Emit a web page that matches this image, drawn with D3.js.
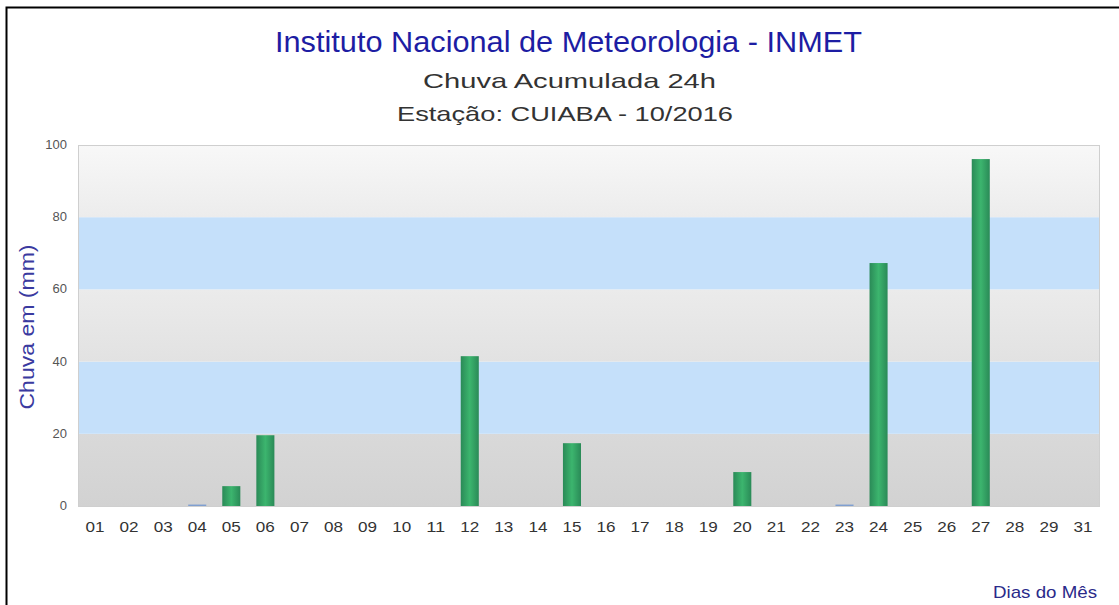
<!DOCTYPE html>
<meta charset="utf-8" />
<style>
  html, body { margin: 0; background: #fff; overflow: hidden; }
  svg { display: block; }
  text { font-family: "Liberation Sans", Arial, sans-serif; }
</style>
<body>
<div id="chart"></div>
<script src="https://d3js.org/d3.v7.min.js"></script>
<script>
  // chart data
  var days = ["01","02","03","04","05","06","07","08","09","10","11","12","13","14","15",
              "16","17","18","19","20","21","22","23","24","25","26","27","28","29","31"];
  var rain = [0,0,0,0.4,5.5,19.6,0,0,0,0,0,41.5,0,0,17.4,
              0,0,0,0,9.4,0,0,0.4,67.3,0,0,96.1,0,0,0];
  var yTicks = [0, 20, 40, 60, 80, 100];
  var bands = [[0, 20, "gray"], [20, 40, "blue"], [40, 60, "gray"], [60, 80, "blue"], [80, 100, "gray"]];

  var W = 1119, H = 605;
  var margin = { top: 145, right: 19, bottom: 99, left: 78 },
    width = W - margin.left - margin.right,
    height = H - margin.top - margin.bottom;

  var svg = d3.select("#chart").append("svg")
    .attr("width", W).attr("height", H);

  var defs = svg.append("defs");
  var bg = defs.append("linearGradient").attr("id", "barGrad")
    .attr("x1", 0).attr("x2", 1).attr("y1", 0).attr("y2", 0);
  bg.append("stop").attr("offset", "0%").attr("stop-color", "#2a8a57");
  bg.append("stop").attr("offset", "50%").attr("stop-color", "#3cb56e");
  bg.append("stop").attr("offset", "100%").attr("stop-color", "#2a8a57");

  // gray band gradients get lighter toward the top of the chart
  var grayShades = { 0: ["#d9d9d9", "#d2d2d2"], 40: ["#ebebeb", "#e2e2e2"], 80: ["#f8f8f8", "#ececec"] };
  Object.keys(grayShades).forEach(function (k) {
    var g = defs.append("linearGradient").attr("id", "gray" + k)
      .attr("x1", 0).attr("x2", 0).attr("y1", 0).attr("y2", 1);
    g.append("stop").attr("offset", "0%").attr("stop-color", grayShades[k][0]);
    g.append("stop").attr("offset", "100%").attr("stop-color", grayShades[k][1]);
  });

  // outer frame (right and bottom edges fall outside the picture)
  svg.append("rect").attr("x", 6.5).attr("y", 7.5)
    .attr("width", W + 20).attr("height", H + 20)
    .attr("fill", "none").attr("stroke", "#000").attr("stroke-width", 2);

  var x = d3.scaleBand().domain(days).range([0, width]).paddingInner(0.47).paddingOuter(0.235);
  var y = d3.scaleLinear().domain([0, 100]).range([height, 0]);

  var g = svg.append("g").attr("transform", "translate(" + margin.left + "," + margin.top + ")");

  g.selectAll(".band").data(bands).enter().append("rect")
    .attr("x", 0).attr("width", width)
    .attr("y", function (d) { return y(d[1]); })
    .attr("height", function (d) { return y(d[0]) - y(d[1]); })
    .attr("fill", function (d) { return d[2] === "blue" ? "#c5e0fa" : "url(#gray" + d[0] + ")"; });

  g.append("rect").attr("x", 0.5).attr("y", 0.5).attr("width", width - 1).attr("height", height)
    .attr("fill", "none").attr("stroke", "#cfcfcf");

  g.selectAll(".bar").data(rain).enter().append("rect")
    .attr("x", function (d, i) { return x(days[i]); })
    .attr("width", x.bandwidth())
    .attr("y", function (d) { return y(d); })
    .attr("height", function (d) { return y(0) - y(d); })
    .attr("fill", function (d) { return d < 1 ? "#7f9fd0" : "url(#barGrad)"; })
    .style("display", function (d) { return d > 0 ? null : "none"; });

  // y axis labels
  g.selectAll(".ytick").data(yTicks).enter().append("text")
    .attr("x", -11).attr("y", function (d) { return y(d) + 4; })
    .attr("text-anchor", "end").attr("font-size", 13).attr("fill", "#555")
    .text(function (d) { return d; });

  // x axis labels
  var xAxis = d3.axisBottom(x).tickSize(0).tickPadding(15);
  var ax = g.append("g").attr("transform", "translate(0," + height + ")").call(xAxis);
  ax.select(".domain").remove();
  ax.selectAll("text").attr("font-size", 15).attr("fill", "#333")
    .attr("font-family", "Liberation Sans, Arial, sans-serif")
    .attr("textLength", 19).attr("lengthAdjust", "spacingAndGlyphs");

  svg.append("text").attr("transform", "translate(34," + (margin.top + 182) + ") rotate(-90)")
    .attr("text-anchor", "middle").attr("font-size", 20).attr("fill", "#3a3aa0")
    .attr("textLength", 165).attr("lengthAdjust", "spacingAndGlyphs")
    .text("Chuva em (mm)");

  svg.append("text").attr("x", 993).attr("y", 598)
    .attr("font-size", 17).attr("fill", "#2a2a8a")
    .attr("textLength", 104).attr("lengthAdjust", "spacingAndGlyphs").text("Dias do Mês");

  svg.append("text").attr("x", 275).attr("y", 52)
    .attr("font-size", 29).attr("fill", "#1d1da3")
    .attr("textLength", 587).attr("lengthAdjust", "spacingAndGlyphs")
    .text("Instituto Nacional de Meteorologia - INMET");
  svg.append("text").attr("x", 423).attr("y", 88)
    .attr("font-size", 21).attr("fill", "#333")
    .attr("textLength", 293).attr("lengthAdjust", "spacingAndGlyphs")
    .text("Chuva Acumulada 24h");
  svg.append("text").attr("x", 397).attr("y", 121)
    .attr("font-size", 21).attr("fill", "#333")
    .attr("textLength", 336).attr("lengthAdjust", "spacingAndGlyphs")
    .text("Estação: CUIABA - 10/2016");
</script>
</body>
